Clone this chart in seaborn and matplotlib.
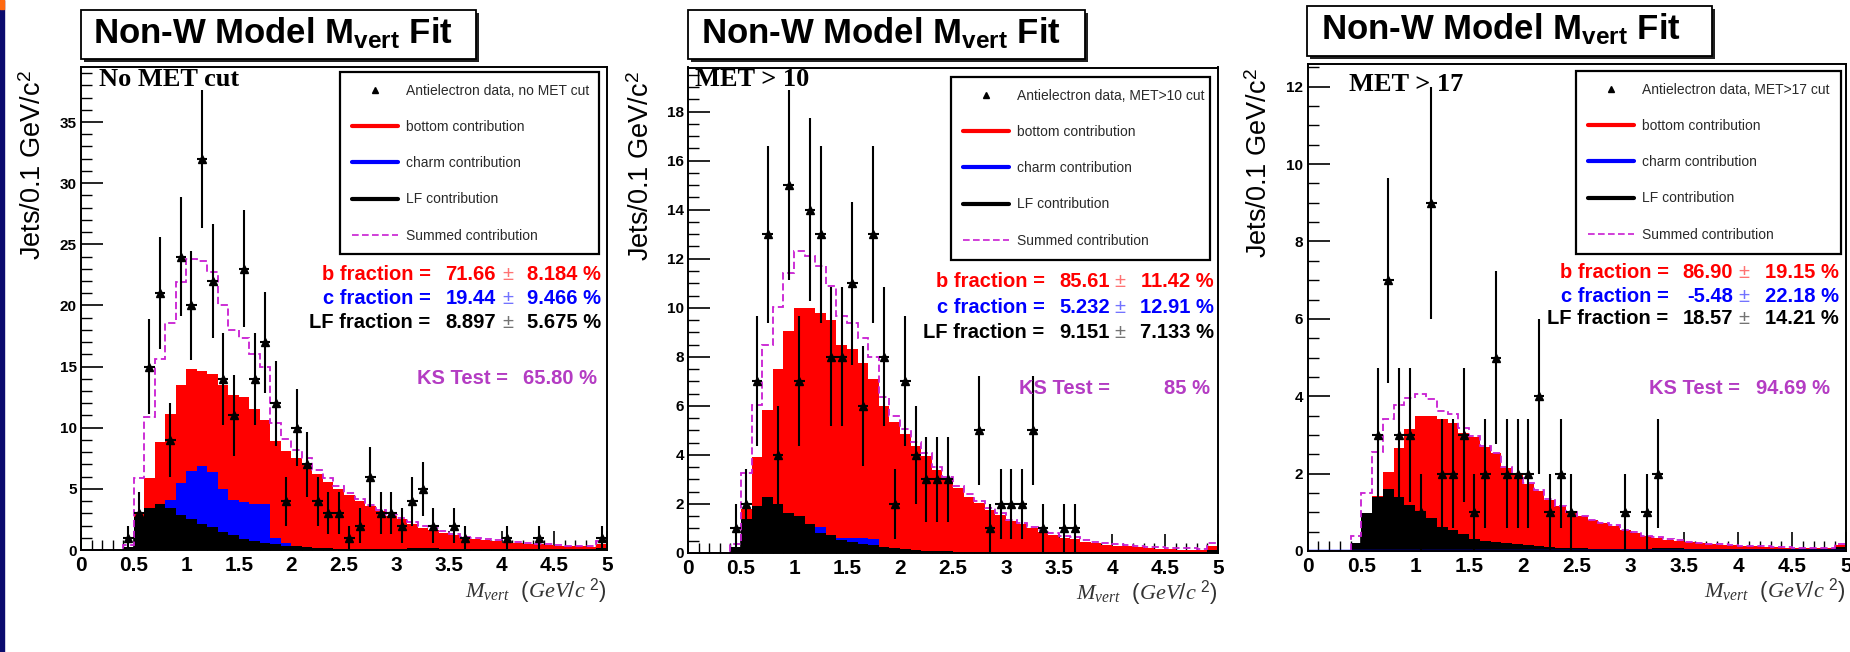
import numpy as np
import pandas as pd
import matplotlib
matplotlib.use("Agg")
import matplotlib.pyplot as plt
import seaborn as sns
from matplotlib.patches import Rectangle
from matplotlib.lines import Line2D
from matplotlib.ticker import MultipleLocator, FuncFormatter

# ---------------------------------------------------------------- data
bin_edges = np.round(np.linspace(0.0, 5.0, 51), 2)      # M_vert bins (0.1 GeV/c^2)
bin_centers = np.round(bin_edges[:-1] + 0.05, 3)

cut_labels = ["No MET cut", "MET > 10", "MET > 17"]
data_labels = ["Antielectron data, no MET cut",
               "Antielectron data, MET>10 cut",
               "Antielectron data, MET>17 cut"]
component_labels = ["bottom contribution", "charm contribution",
                    "LF contribution", "Summed contribution"]
fraction_names = ["b fraction =", "c fraction =", "LF fraction ="]

# ---- panel 1 : no MET cut
bottom_nomet = [0, 0, 0, 0, 0.15, 3.1, 5.9, 8.8, 11.1, 13.5, 14.8, 14.6, 14.4, 13.5, 12.7,
                12.5, 11.5, 10.6, 8.9, 8.1, 7.5, 7.0, 6.2, 5.6, 5.0, 4.5, 4.0, 3.6, 3.2, 2.8,
                2.5, 2.1, 1.8, 1.6, 1.4, 1.2, 1.0, 0.9, 0.8, 0.7, 0.6, 0.55, 0.5, 0.45, 0.4,
                0.35, 0.3, 0.3, 0.25, 0.45]
charm_nomet = [0, 0, 0, 0, 0.0, 0.1, 1.6, 3.0, 4.1, 5.5, 6.5, 6.9, 6.4, 5.0, 4.1,
               3.9, 3.8, 3.8, 1.0, 0.6, 0.35, 0.25, 0.15, 0.1, 0.08, 0.06, 0.05, 0.04, 0.03, 0.03,
               0.02, 0.02, 0.02, 0.02, 0.02, 0.02, 0.02, 0.02, 0.02, 0.02, 0.02, 0.02, 0.02, 0.02, 0.02,
               0.02, 0.02, 0.02, 0.02, 0.05]
lf_nomet = [0, 0, 0, 0, 0.25, 2.7, 3.4, 3.8, 3.4, 2.9, 2.5, 2.1, 1.9, 1.5, 1.2,
            0.9, 0.7, 0.55, 0.45, 0.35, 0.3, 0.25, 0.2, 0.15, 0.12, 0.1, 0.1, 0.08, 0.08, 0.07,
            0.07, 0.15, 0.15, 0.15, 0.12, 0.1, 0.08, 0.07, 0.06, 0.06, 0.05, 0.05, 0.05, 0.05, 0.04,
            0.04, 0.04, 0.04, 0.04, 0.2]
data_nomet = [0, 0, 0, 0, 1, 3, 15, 21, 9, 24, 20, 32, 22, 14, 11,
              23, 14, 17, 12, 4, 10, 7, 4, 3, 3, 1, 2, 6, 3, 3,
              2, 4, 5, 2, 0, 2, 1, 0, 0, 0, 1, 0, 0, 1, 0,
              0, 0, 0, 0, 1]
values_nomet = ["71.66", "19.44", "8.897"]
errors_nomet = ["8.184", "9.466", "5.675"]
ks_nomet = "65.80"

# ---- panel 2 : MET > 10
bottom_met10 = [0, 0, 0, 0, 0.1, 1.8, 3.9, 5.85, 7.5, 9.05, 10.0, 10.0, 9.8, 9.5, 8.5,
                8.3, 7.75, 7.1, 6.0, 5.35, 4.85, 4.35, 3.95, 3.4, 3.0, 2.65, 2.3, 2.05, 1.75, 1.55,
                1.3, 1.17, 1.0, 0.86, 0.74, 0.62, 0.57, 0.46, 0.4, 0.34, 0.3, 0.27, 0.23, 0.2, 0.18,
                0.16, 0.14, 0.13, 0.12, 0.28]
charm_met10 = [0, 0, 0, 0, 0.0, 0.1, 0.2, 0.35, 0.55, 0.7, 0.8, 0.9, 1.08, 0.65, 0.6,
               0.62, 0.62, 0.58, 0.1, 0.05, 0.04, 0.03, 0.03, 0.03, 0.03, 0.05, 0.05, 0.05, 0.05, 0.05,
               0.02, 0.02, 0.02, 0.02, 0.02, 0.02, 0.02, 0.02, 0.02, 0.02, 0.02, 0.02, 0.02, 0.02, 0.02,
               0.02, 0.02, 0.02, 0.02, 0.02]
lf_met10 = [0, 0, 0, 0, 0.26, 1.38, 1.92, 2.3, 2.0, 1.65, 1.5, 1.2, 0.82, 0.73, 0.55,
            0.45, 0.38, 0.32, 0.25, 0.2, 0.17, 0.14, 0.1, 0.08, 0.08, 0.04, 0.04, 0.04, 0.04, 0.04,
            0.04, 0.04, 0.04, 0.06, 0.05, 0.05, 0.05, 0.04, 0.04, 0.04, 0.04, 0.04, 0.04, 0.04, 0.04,
            0.04, 0.04, 0.04, 0.04, 0.12]
data_met10 = [0, 0, 0, 0, 1, 2, 7, 13, 4, 15, 7, 14, 13, 8, 8,
              11, 6, 13, 8, 2, 7, 4, 3, 3, 3, 0, 0, 5, 1, 2,
              2, 2, 5, 1, 0, 1, 1, 0, 0, 0, 0, 0, 0, 0, 0,
              0, 0, 0, 0, 0]
values_met10 = ["85.61", "5.232", "9.151"]
errors_met10 = ["11.42", "12.91", "7.133"]
ks_met10 = "85"

# ---- panel 3 : MET > 17
bottom_met17 = [0, 0, 0, 0, 0.2, 0.55, 1.42, 2.05, 2.65, 3.15, 3.5, 3.5, 3.42, 3.3, 3.05,
                2.95, 2.7, 2.52, 2.15, 1.98, 1.74, 1.55, 1.33, 1.16, 1.0, 0.9, 0.8, 0.72, 0.65, 0.54,
                0.47, 0.39, 0.34, 0.29, 0.26, 0.22, 0.2, 0.18, 0.16, 0.15, 0.13, 0.12, 0.11, 0.1, 0.09,
                0.08, 0.08, 0.07, 0.07, 0.15]
charm_met17 = [0, 0, 0, 0, 0.0, -0.02, -0.27, -0.25, -0.27, -0.38, -0.45, -0.43, -0.42, -0.3, -0.3,
               -0.27, -0.25, -0.2, -0.18, -0.15, -0.13, -0.11, -0.09, -0.07, -0.07, -0.06, -0.05, -0.05, -0.04, -0.04,
               -0.04, -0.04, -0.06, -0.06, -0.06, -0.05, -0.05, -0.04, -0.04, -0.04, -0.03, -0.03, -0.03, -0.03, -0.03,
               -0.03, -0.03, -0.03, -0.03, -0.08]
lf_met17 = [0, 0, 0, 0, 0.2, 0.97, 1.4, 1.6, 1.4, 1.18, 1.0, 0.85, 0.62, 0.55, 0.44,
            0.3, 0.27, 0.22, 0.2, 0.17, 0.15, 0.13, 0.1, 0.08, 0.08, 0.07, 0.06, 0.06, 0.05, 0.05,
            0.05, 0.05, 0.08, 0.08, 0.08, 0.06, 0.06, 0.05, 0.05, 0.05, 0.04, 0.04, 0.04, 0.04, 0.04,
            0.04, 0.04, 0.04, 0.04, 0.1]
data_met17 = [0, 0, 0, 0, 0, 0, 3, 7, 3, 3, 1, 9, 2, 2, 3,
              1, 2, 5, 2, 2, 2, 4, 1, 2, 1, 0, 0, 0, 0, 1,
              0, 1, 2, 0, 0, 0, 0, 0, 0, 0, 0, 0, 0, 0, 0,
              0, 0, 0, 0, 0]
values_met17 = ["86.90", "-5.48", "18.57"]
errors_met17 = ["19.15", "22.18", "14.21"]
ks_met17 = "94.69"

# ---------------------------------------------------------------- style
sns.set_style("white")
plt.rcParams['font.family'] = ['Liberation Sans', 'DejaVu Sans']
plt.rcParams['mathtext.fontset'] = 'custom'
plt.rcParams['mathtext.rm'] = 'Liberation Sans'
plt.rcParams['mathtext.bf'] = 'Liberation Sans:bold'
plt.rcParams['mathtext.it'] = 'Liberation Serif:italic'

RED, BLUE, BLACK = '#ff0000', '#0000ff', '#000000'
MAGENTA = '#c81ed2'
KS_COLOR = '#b43cc3'
W, H = 1850, 652

def fx(x):
    return x / W

def fy(y):
    return 1 - y / H

fig = plt.figure(figsize=(W / 100, H / 100), dpi=100)
fig.patch.set_facecolor('white')

# slide-edge strip on the far left
fig.patches.append(Rectangle((0, 0), fx(4), 1, transform=fig.transFigure,
                             color='#0b0b6e', zorder=0))
fig.patches.append(Rectangle((0, fy(9)), fx(4), 9 / H, transform=fig.transFigure,
                             color='#ff6a10', zorder=1))

panels = [
    dict(bottom=bottom_nomet, charm=charm_nomet, lf=lf_nomet, data=data_nomet,
         vals=values_nomet, errs=errors_nomet, ks=ks_nomet, cut=cut_labels[0], dlab=data_labels[0],
         ax_px=(81, 67, 607, 550), ymax=39.5, major=5, minor=1,
         box=(81, 10, 476, 59), title_x=93, title_base=44,
         ylab=(34, 165.5), cut_pos=(99, 79.5),
         leg=(0.4924, 0.9897, 0.4924),
         frac_y=(274, 298.5, 323), lab_r=430.5, val_r=496, pm_c=508, err_r=601,
         ks_y=378, ks_lab_r=508, ks_val_r=597, xl_base=597),
    dict(bottom=bottom_met10, charm=charm_met10, lf=lf_met10, data=data_met10,
         vals=values_met10, errs=errors_met10, ks=ks_met10, cut=cut_labels[1], dlab=data_labels[1],
         ax_px=(688, 67.5, 1218, 553), ymax=19.8, major=2, minor=0.5,
         box=(688, 10, 1085, 59), title_x=701, title_base=44,
         ylab=(642, 166.5), cut_pos=(695, 79),
         leg=(0.4962, 0.9804, 0.4887),
         frac_y=(281, 307.5, 332.5), lab_r=1044.6, val_r=1110, pm_c=1120, err_r=1214,
         ks_y=389, ks_lab_r=1110, ks_val_r=1210, xl_base=599),
    dict(bottom=bottom_met17, charm=charm_met17, lf=lf_met17, data=data_met17,
         vals=values_met17, errs=errors_met17, ks=ks_met17, cut=cut_labels[2], dlab=data_labels[2],
         ax_px=(1307.5, 63.5, 1846, 551), ymax=12.6, major=2, minor=0.5,
         box=(1307, 6, 1712, 55.5), title_x=1321, title_base=40,
         ylab=(1260, 163), cut_pos=(1349, 84.5),
         leg=(0.4995, 0.9846, 0.4912),
         frac_y=(273, 296, 319), lab_r=1668.6, val_r=1733, pm_c=1744, err_r=1839,
         ks_y=389, ks_lab_r=1740, ks_val_r=1830, xl_base=597),
]

fmt = FuncFormatter(lambda v, p: f"{v:g}")
frac_colors = [RED, BLUE, BLACK]
edge_list = [float(e) for e in bin_edges]

for P in panels:
    l, t, r, b = P['ax_px']
    ax = fig.add_axes([fx(l), fy(b), (r - l) / W, (b - t) / H])
    ax.set_facecolor('white')

    bottom = np.array(P['bottom'], dtype=float)
    charm = np.array(P['charm'], dtype=float)
    lf = np.array(P['lf'], dtype=float)
    counts = np.array(P['data'], dtype=float)
    summed = bottom + charm + lf

    # overlaid filled component histograms
    for vals, col, z in [(bottom, RED, 1.0), (charm, BLUE, 1.1), (lf, BLACK, 1.2)]:
        df = pd.DataFrame({"mvert": bin_centers, "jets": vals})
        sns.histplot(data=df, x="mvert", weights="jets", bins=edge_list, element="step",
                     fill=True, color=col, alpha=1.0, linewidth=0, ax=ax, zorder=z)
    if (charm < 0).any():
        ax.stairs(np.clip(charm, 0, None), bin_edges, color=BLUE, lw=2.5,
                  baseline=None, zorder=1.3)
    ax.stairs(summed, bin_edges, color=MAGENTA, lw=1.3, linestyle=(0, (4, 2)),
              baseline=None, zorder=2)

    m = counts > 0
    ax.errorbar(bin_centers[m], counts[m], yerr=np.sqrt(counts[m]), xerr=0.05,
                fmt='^', color='black', ms=6, elinewidth=1.5, capsize=0, zorder=5)

    ax.set_xlim(0, 5)
    ax.set_ylim(0, P['ymax'])
    ax.set_xlabel('')
    ax.set_ylabel('')
    ax.xaxis.set_major_locator(MultipleLocator(0.5))
    ax.xaxis.set_minor_locator(MultipleLocator(0.1))
    ax.yaxis.set_major_locator(MultipleLocator(P['major']))
    ax.yaxis.set_minor_locator(MultipleLocator(P['minor']))
    ax.xaxis.set_major_formatter(fmt)
    ax.yaxis.set_major_formatter(fmt)
    ax.tick_params(axis='x', which='major', direction='in', length=14, width=1.2,
                   labelsize=15, pad=4, top=False, bottom=True, colors='black')
    ax.tick_params(axis='x', which='minor', direction='in', length=7, width=1.0,
                   top=False, bottom=True, colors='black')
    ax.tick_params(axis='y', which='major', direction='in', length=16, width=1.2,
                   labelsize=11, pad=3, right=False, left=True, colors='black')
    ax.tick_params(axis='y', which='minor', direction='in', length=8, width=1.0,
                   right=False, left=True, colors='black')
    for lab in ax.get_xticklabels() + ax.get_yticklabels():
        lab.set_fontweight('bold')
    for sp in ax.spines.values():
        sp.set_visible(True)
        sp.set_color('black')
        sp.set_linewidth(1.4)

    # legend
    handles = [Line2D([], [], marker='^', ls='none', color='black', ms=5),
               Line2D([], [], color=RED, lw=3),
               Line2D([], [], color=BLUE, lw=3),
               Line2D([], [], color=BLACK, lw=3),
               Line2D([], [], color=MAGENTA, lw=1.2, ls=(0, (4, 2)))]
    labels = [P['dlab']] + component_labels
    lx, ltop, lw_ = P['leg']
    leg = ax.legend(handles, labels, loc='upper left', bbox_to_anchor=(lx, ltop, lw_, 0),
                    mode='expand', frameon=True, fancybox=False, edgecolor='black',
                    fontsize=10, handlelength=3.3, handletextpad=0.6, labelspacing=1.6,
                    borderpad=0.85, borderaxespad=0)
    leg.get_frame().set_linewidth(1.6)
    leg.get_frame().set_facecolor('white')
    leg.get_frame().set_alpha(1)
    leg.set_zorder(6)
    for tx in leg.get_texts():
        tx.set_color('#2a2a2a')

    # cut label (serif bold)
    cx, cy = P['cut_pos']
    fig.text(fx(cx), fy(cy), P['cut'], family=['Liberation Serif', 'DejaVu Serif'],
             fontweight='bold', fontsize=19, ha='left', va='center', color='black', zorder=10)

    # fraction texts
    for i in range(3):
        yy = fy(P['frac_y'][i])
        c = frac_colors[i]
        fig.text(fx(P['lab_r']), yy, fraction_names[i], color=c, fontsize=14.5,
                 fontweight='bold', ha='right', va='center')
        fig.text(fx(P['val_r']), yy, P['vals'][i], color=c, fontsize=14.5,
                 fontweight='bold', ha='right', va='center')
        fig.text(fx(P['pm_c']), yy, '±', color=c, alpha=0.55, fontsize=14.5,
                 ha='center', va='center')
        fig.text(fx(P['err_r']), yy, P['errs'][i] + ' %', color=c, fontsize=14.5,
                 fontweight='bold', ha='right', va='center')
    fig.text(fx(P['ks_lab_r']), fy(P['ks_y']), 'KS Test =', color=KS_COLOR, fontsize=14.5,
             fontweight='bold', ha='right', va='center')
    fig.text(fx(P['ks_val_r']), fy(P['ks_y']), P['ks'] + ' %', color=KS_COLOR, fontsize=14.5,
             fontweight='bold', ha='right', va='center')

    # title box with shadow
    bl, bt, br, bb = P['box']
    fig.patches.append(Rectangle((fx(bl + 3), fy(bb + 3)), (br - bl) / W, (bb - bt) / H,
                                 transform=fig.transFigure, facecolor='#202020',
                                 edgecolor='none', zorder=2))
    fig.patches.append(Rectangle((fx(bl), fy(bb)), (br - bl) / W, (bb - bt) / H,
                                 transform=fig.transFigure, facecolor='white',
                                 edgecolor='black', lw=1.3, zorder=3))
    fig.text(fx(P['title_x']), fy(P['title_base']), r"Non-W Model M$_{\mathbf{vert}}$ Fit",
             fontsize=25, fontweight='bold', ha='left', va='baseline', color='black', zorder=4)

    # axis titles
    yx, yc = P['ylab']
    fig.text(fx(yx), fy(yc), r"Jets/0.1 GeV/c$^{2}$", rotation=90, fontsize=19.5,
             ha='center', va='center', color='black')
    fig.text(fx(r), fy(P['xl_base']),
             r"$\mathit{M}_{\mathit{vert}}$  $\mathit{(GeV/c}\ ^{\mathit{2}}\mathit{)}$",
             fontsize=16, ha='right', va='baseline', color='#333333')

fig.savefig("out.png", dpi=100, facecolor='white')
